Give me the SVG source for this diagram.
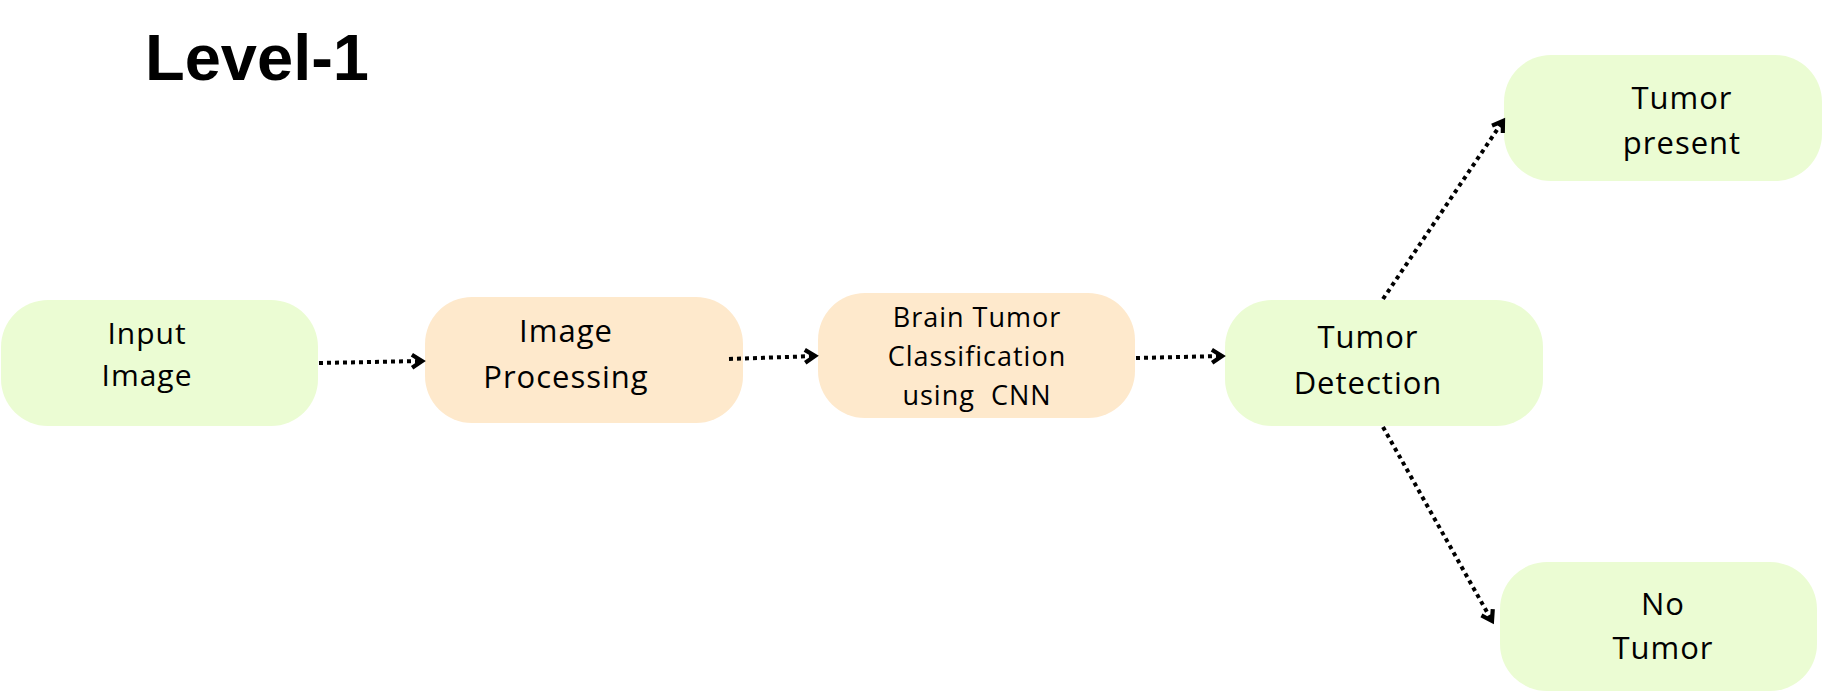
<svg xmlns="http://www.w3.org/2000/svg" width="1823" height="692" viewBox="0 0 1823 692">
<style>
.g{fill:#EBFCD3}
.p{fill:#FEE9CC}
.t{font-family:"Open Sans","Liberation Sans",sans-serif;fill:#000;text-anchor:middle;letter-spacing:1px}
.c{fill:none;stroke:#000;stroke-width:4;stroke-dasharray:4 4}
.title{font-family:"Liberation Sans",Arial,sans-serif;font-weight:bold;font-size:65px;fill:#000}
</style>
<defs>
<marker id="arr" markerUnits="userSpaceOnUse" markerWidth="16" markerHeight="16" refX="11" refY="8" orient="auto" overflow="visible">
<path d="M1,1.5 L11,8 L1,14.5" fill="none" stroke="#000" stroke-width="4.2" stroke-linejoin="miter"/>
</marker>
</defs>
<rect width="1823" height="692" fill="#fff"/>
<text class="title" x="145" y="80">Level-1</text>
<g id="input-image">
<rect class="g" x="1" y="300" width="317" height="126" rx="47"/>
<text class="t" font-size="30" x="147" y="344">Input</text>
<text class="t" font-size="30" x="147" y="386">Image</text>
</g>
<g id="image-processing">
<rect class="p" x="425" y="297" width="318" height="126" rx="47"/>
<text class="t" font-size="31" x="566" y="342">Image</text>
<text class="t" font-size="31" x="566" y="388">Processing</text>
</g>
<g id="cnn">
<rect class="p" x="818" y="293" width="317" height="125" rx="47"/>
<text class="t" font-size="27" x="977" y="327">Brain Tumor</text>
<text class="t" font-size="27" x="977" y="366">Classification</text>
<text class="t" font-size="27" x="977" y="405" xml:space="preserve">using  CNN</text>
</g>
<g id="tumor-detection">
<rect class="g" x="1225" y="300" width="318" height="126" rx="47"/>
<text class="t" font-size="31" x="1368" y="348">Tumor</text>
<text class="t" font-size="31" x="1368" y="394">Detection</text>
</g>
<g id="tumor-present">
<rect class="g" x="1504" y="55" width="318" height="126" rx="47"/>
<text class="t" font-size="31" x="1682" y="109">Tumor</text>
<text class="t" font-size="31" x="1682" y="154">present</text>
</g>
<g id="no-tumor">
<rect class="g" x="1500" y="562" width="317" height="129" rx="47"/>
<text class="t" font-size="31" x="1663" y="615">No</text>
<text class="t" font-size="31" x="1663" y="659">Tumor</text>
</g>
<g id="connectors">
<path class="c" d="M319,363 L422,361" marker-end="url(#arr)"/>
<path class="c" d="M729,359 L815,356" marker-end="url(#arr)"/>
<path class="c" d="M1136,358 L1222,356" marker-end="url(#arr)"/>
<path class="c" d="M1383,299 L1503,121" marker-end="url(#arr)"/>
<path class="c" d="M1383,427 L1492,621" marker-end="url(#arr)"/>
</g>
</svg>
